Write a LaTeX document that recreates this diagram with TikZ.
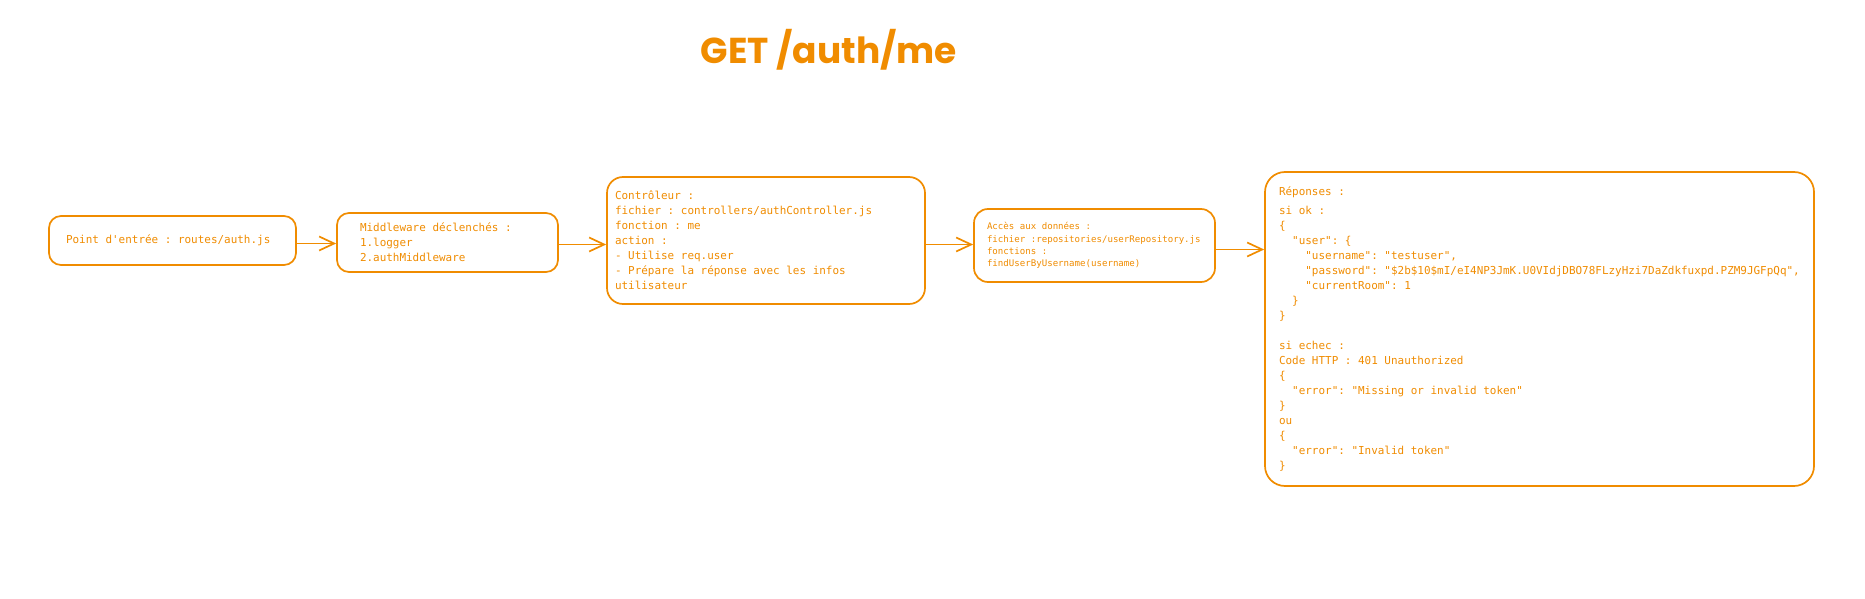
\documentclass[tikz,border=0pt]{standalone}
\usepackage{fontspec}
\setmainfont{Fira Sans}
\setmonofont{DejaVu Sans Mono}
\newfontfamily\titlefont{Poppins}
\usetikzlibrary{arrows.meta}
\definecolor{FlowOrange}{HTML}{F08C00}
\newcommand\monospaces{\spaceskip=\fontcharwd\font`x\relax\xspaceskip=\spaceskip}
\tikzset{
  every node/.style={text=FlowOrange},
  box/.style={draw=FlowOrange, line width=1.7pt, fill=white, align=flush left, inner ysep=0pt,
    font=\ttfamily\fontsize{10.95}{15}\selectfont, execute at begin node=\monospaces},
  smallbox/.style={box, font=\ttfamily\fontsize{9.1}{12.3}\selectfont},
  flow/.style={-{Straight Barb[length=15pt,width=14pt,line width=1.7pt]}, draw=FlowOrange, line width=1.7pt},
}

\begin{document}
\begin{tikzpicture}[x=1pt,y=-1pt]
  \useasboundingbox (0,0) rectangle (1865,599);
  % Title
  \node[font=\titlefont\bfseries\fontsize{36}{36}\selectfont] (title) at (829,50) {GET /auth/me};
  % Steps of the request
  \node[box, rounded corners=12pt, minimum width=247pt, minimum height=49pt, inner xsep=17pt, text width=213pt] (entry) at (172.5,240.5)
    {Point d'entrée : routes/auth.js};
  \node[box, rounded corners=12pt, minimum width=221pt, minimum height=59pt, inner xsep=23pt, text width=175pt] (middleware) at (447.5,242.5)
    {Middleware déclenchés :\\ 1.logger\\ 2.authMiddleware};
  \node[box, rounded corners=16pt, minimum width=318pt, minimum height=127pt, inner xsep=8pt, text width=302pt] (controller) at (766,240.5)
    {Contrôleur :\\fichier : controllers/authController.js\\fonction : me\\action :\\- Utilise req.user\\- Prépare la réponse avec les infos\\utilisateur};
  \node[smallbox, rounded corners=14pt, minimum width=241pt, minimum height=73pt, inner xsep=13pt, text width=215pt] (repository) at (1094.5,245.5)
    {Accès aux données :\\fichier :repositories/userRepository.js\\fonctions :\\findUserByUsername(username)};
  % Responses
  \node[box, rounded corners=20pt, minimum width=549pt, minimum height=314pt, inner xsep=14pt, text width=521pt] (responses) at (1539.5,329)
    {Réponses :\\[4pt]
     si ok :\\
     \{\\
     \phantom{xx}"user": \{\\
     \phantom{xxxx}"username": "testuser",\\
     \phantom{xxxx}"password": "\$2b\$10\$mI/eI4NP3JmK.U0VIdjDBO78FLzyHzi7DaZdkfuxpd.PZM9JGFpQq",\\
     \phantom{xxxx}"currentRoom": 1\\
     \phantom{xx}\}\\
     \}\\
     \mbox{}\\
     si echec :\\
     Code HTTP : 401 Unauthorized\\
     \{\\
     \phantom{xx}"error": "Missing or invalid token"\\
     \}\\
     ou\\
     \{\\
     \phantom{xx}"error": "Invalid token"\\
     \}};
  % Connectors
  \draw[flow] ([yshift=-3pt]entry.east) -- ([yshift=-3pt]entry.east -| middleware.west);
  \draw[flow] ([yshift=-2pt]middleware.east) -- ([yshift=-2pt]middleware.east -| controller.west);
  \draw[flow] ([yshift=-4pt]controller.east) -- ([yshift=-4pt]controller.east -| repository.west);
  \draw[flow] ([yshift=-4pt]repository.east) -- ([yshift=-4pt]repository.east -| responses.west);
\end{tikzpicture}
\end{document}
